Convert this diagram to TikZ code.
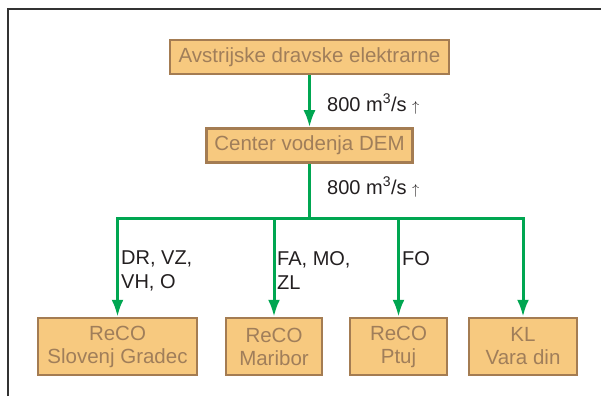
\documentclass[tikz,border=0pt]{standalone}
\usepackage{fontspec}
\setmainfont{Liberation Sans}
\usetikzlibrary{positioning,arrows.meta}
\definecolor{boxfill}{HTML}{F7C97F}
\definecolor{boxline}{HTML}{A47C52}
\definecolor{boxtext}{HTML}{A07E5A}
\definecolor{flow}{HTML}{00A651}
\definecolor{ink}{HTML}{231F20}
\newcommand{\mcub}{m\textsuperscript{3}/s}
\newcommand{\upa}{{\fontsize{14}{14}\selectfont$\uparrow$}}

\begin{document}
\begin{tikzpicture}[x=1pt,y=1pt]
	\tikzstyle{unit}=[rectangle, draw=boxline, line width=2.5pt, fill=boxfill, text=boxtext, font=\fontsize{20.5}{23}\selectfont, align=center, inner sep=0pt, minimum height=34pt]
	\tikzstyle{reco}=[unit, minimum height=57pt]
	\tikzstyle{connect}=[-{Latex[length=17pt,width=12pt]}, draw=flow, line width=3pt]
	\tikzstyle{pipe}=[draw=flow, line width=3pt]
	\tikzstyle{lbl}=[text=ink, font=\fontsize{20}{24}\selectfont, align=left, inner sep=0pt, anchor=west]
	\tikzstyle{frame}=[draw=black!80, line width=1.5pt]
	\useasboundingbox (0,0) rectangle (601,396);
	\draw[frame] (8,0) -- (8,387) -- (601,387);
	% top of the chain
	\node[unit, minimum width=279pt] (ade) at (309.5,339) {Avstrijske dravske elektrarne};
	\node[unit, minimum width=206pt] (dem) [below=52pt of ade] {Center vodenja DEM};
	% regional centres
	\node[reco, minimum width=159pt] (slg) at (117.5,49.5) {ReCO\\Slovenj Gradec};
	\node[reco, minimum width=96pt] (mb) at (274,49.5) {ReCO\\Maribor};
	\node[reco, minimum width=97pt] (ptj) at (398.5,49.5) {ReCO\\Ptuj};
	\node[reco, minimum width=108pt] (kl) at (523,49.5) {KL\\Vara din};
	\coordinate (split) at (dem.south |- 0,177);

	\path (ade) edge [connect] (dem)
	(dem.south) edge [pipe] (split);
	\draw[connect] (split) -| (slg);
	\draw[connect] (split) -| (mb);
	\draw[connect] (split) -| (ptj);
	\draw[connect] (split) -| (kl);

	\node[lbl] (q1) at (327,292) {800 \mcub\ \upa};
	\node[lbl] (q2) at (327,209) {800 \mcub\ \upa};
	\node[lbl] (r1) at (121,125) {DR, VZ,\\VH, O};
	\node[lbl] (r2) at (277,125) {FA, MO,\\ZL};
	\node[lbl] (r3) at (402,137) {FO};
\end{tikzpicture}
\end{document}
